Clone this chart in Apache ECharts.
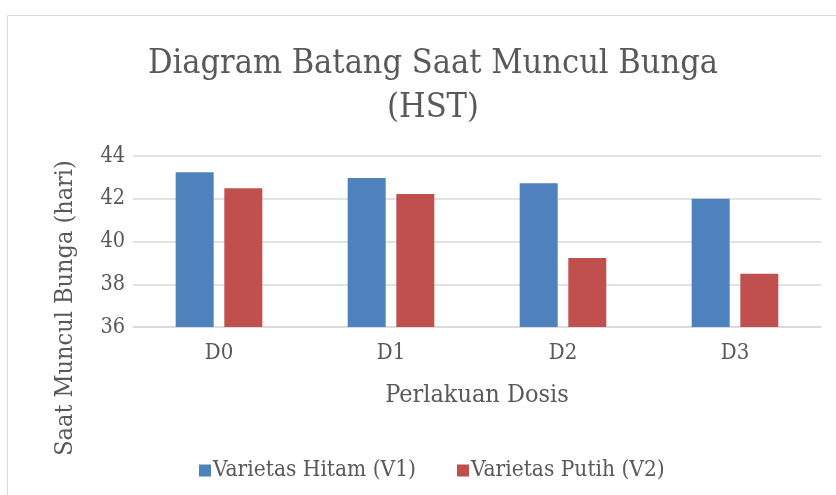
<!DOCTYPE html>
<html>
<head>
<meta charset="utf-8">
<script src="https://cdn.jsdelivr.net/npm/echarts@6/dist/echarts.min.js"></script>
<style>
  html, body { margin: 0; padding: 0; background: #fff; }
  #chart { width: 836px; height: 495px; }
</style>
</head>
<body>
<div id="chart"></div>
<script>
// values
const categories = ['D0', 'D1', 'D2', 'D3']
const hitamV1 = [43.24, 42.97, 42.72, 42.0]
const putihV2 = [42.49, 42.22, 39.23, 38.49]
const yTicks = { min: 36, max: 44, interval: 2 }

const FONT = '"DejaVu Serif Condensed", "Liberation Serif", serif'
const TEXT = '#595959'

const chart = echarts.init(document.getElementById('chart'), null, { renderer: 'canvas' })

chart.setOption({
  animation: false,
  backgroundColor: '#fff',
  title: {
    text: 'Diagram Batang Saat Muncul Bunga\n(HST)',
    left: 428,
    top: 37,
    textAlign: 'center',
    textStyle: { fontFamily: FONT, fontSize: 34, fontWeight: 'normal', color: TEXT, lineHeight: 44 }
  },
  graphic: [
    {
      type: 'rect',
      shape: { x: 7.5, y: 15.5, width: 840, height: 500 },
      style: { fill: 'none', stroke: '#d9d9d9', lineWidth: 1 },
      silent: true
    },
    {
      type: 'text',
      x: 65,
      y: 308,
      rotation: Math.PI / 2,
      style: {
        text: 'Saat Muncul Bunga (hari)',
        fontFamily: FONT,
        fontSize: 25,
        fill: TEXT,
        align: 'center',
        verticalAlign: 'middle'
      }
    }
  ],
  legend: {
    left: 194,
    top: 454,
    itemWidth: 12,
    itemHeight: 12,
    itemGap: 41,
    icon: 'rect',
    textStyle: { fontFamily: FONT, fontSize: 22.5, color: TEXT, padding: [0, 0, 0, -3] },
    data: ['Varietas Hitam (V1)', 'Varietas Putih (V2)']
  },
  grid: { left: 133, right: 15, top: 156, bottom: 168 },
  xAxis: {
    type: 'category',
    data: categories,
    name: 'Perlakuan Dosis',
    nameLocation: 'middle',
    nameGap: 56,
    nameTextStyle: { fontFamily: FONT, fontSize: 25, color: TEXT },
    axisLine: { lineStyle: { color: '#d9d9d9', width: 1.5 } },
    axisTick: { show: false },
    axisLabel: { fontFamily: FONT, fontSize: 22, color: TEXT, margin: 15 }
  },
  yAxis: {
    type: 'value',
    min: yTicks.min,
    max: yTicks.max,
    interval: yTicks.interval,
    axisLine: { show: false },
    axisTick: { show: false },
    axisLabel: { fontFamily: FONT, fontSize: 21.5, color: TEXT, margin: 8 },
    splitLine: { lineStyle: { color: '#d9d9d9', width: 1.5 } }
  },
  series: [
    {
      name: 'Varietas Hitam (V1)',
      type: 'bar',
      data: hitamV1,
      barWidth: 38,
      barGap: '28%',
      itemStyle: { color: '#4f81bd' }
    },
    {
      name: 'Varietas Putih (V2)',
      type: 'bar',
      data: putihV2,
      barWidth: 38,
      itemStyle: { color: '#c0504d' }
    }
  ]
})
</script>
</body>
</html>
